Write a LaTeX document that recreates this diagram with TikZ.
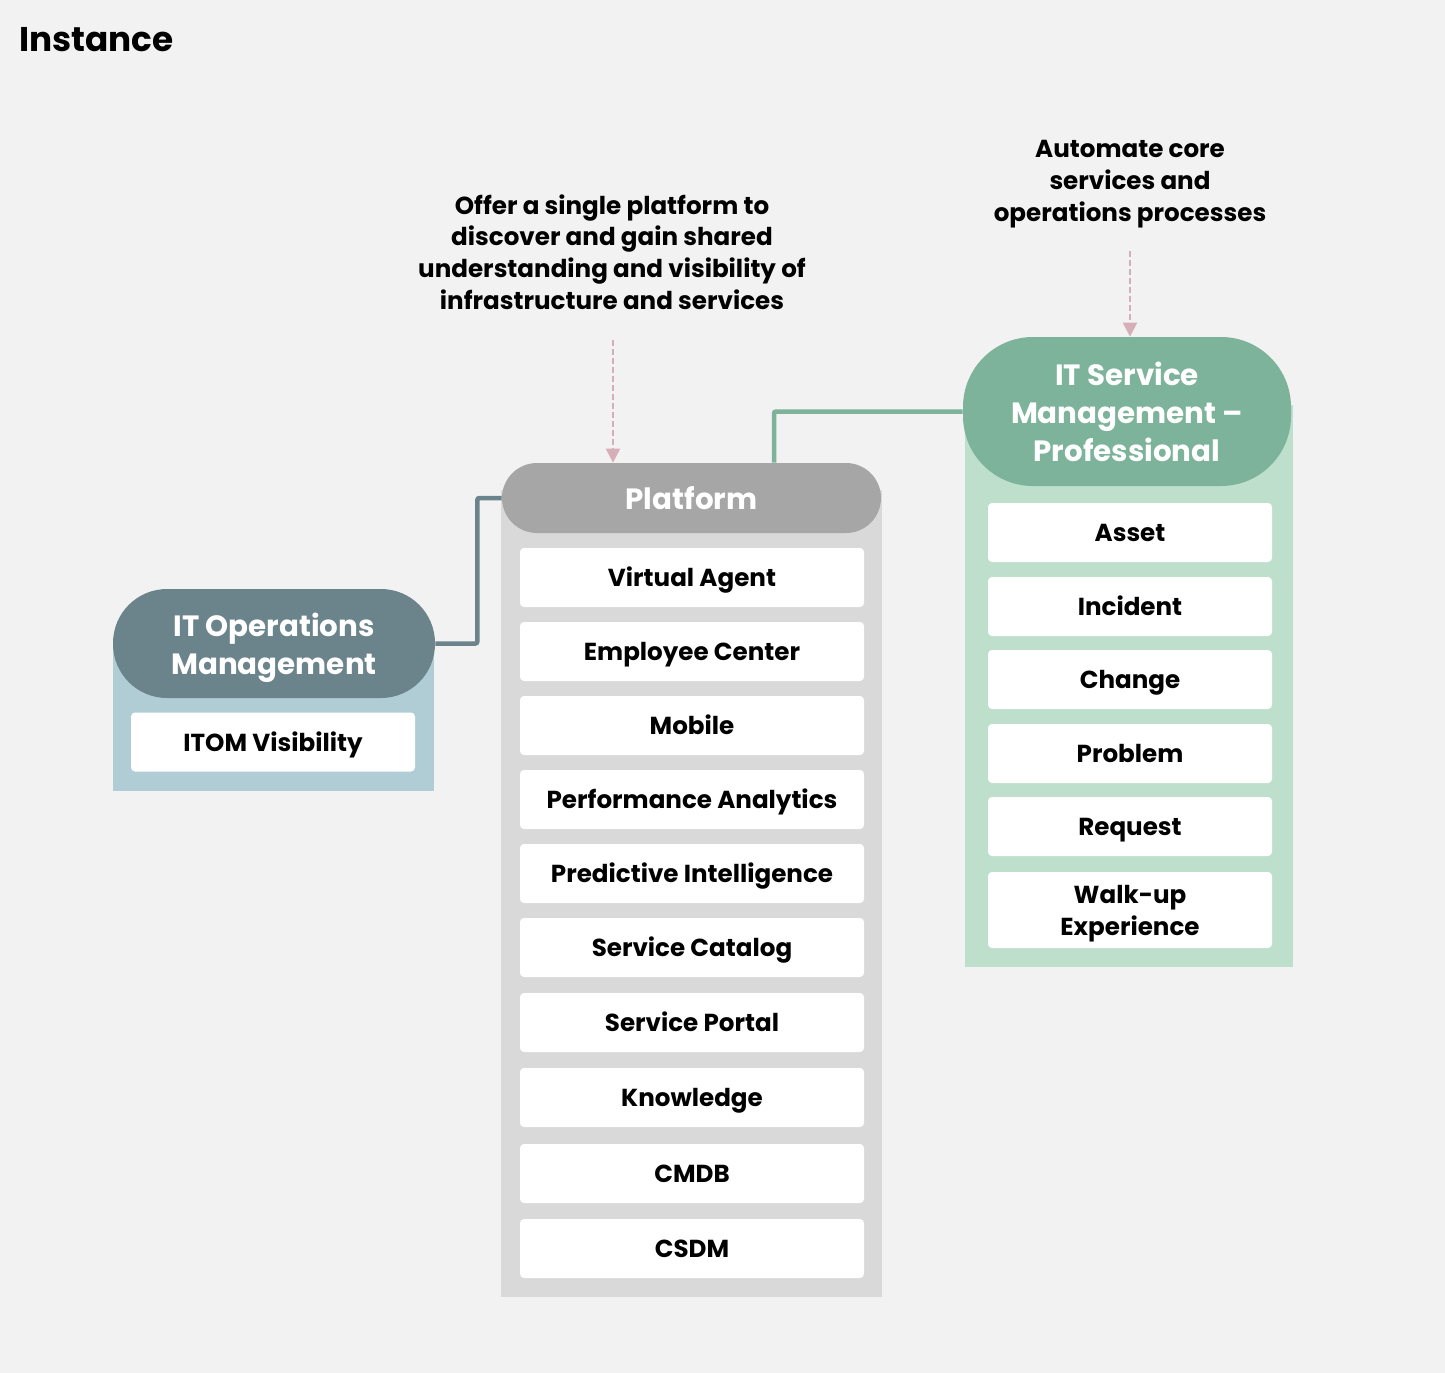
\documentclass[tikz,border=0pt]{standalone}
\usepackage{fontspec}
\setmainfont{Poppins}
\usetikzlibrary{positioning,calc,arrows.meta}

\definecolor{bggray}{HTML}{F2F2F2}
\definecolor{itomdark}{HTML}{6B848C}
\definecolor{itomlight}{HTML}{B0CDD6}
\definecolor{platdark}{HTML}{A6A6A6}
\definecolor{platlight}{HTML}{D9D9D9}
\definecolor{itsmdark}{HTML}{7DB39A}
\definecolor{itsmlight}{HTML}{BDDFCB}
\definecolor{notepink}{HTML}{D6AEB7}

\newlength\pxl
\setlength\pxl{0.02cm}

\tikzset{
  item/.style={fill=white, rounded corners=4\pxl, minimum height=59\pxl,
    inner sep=0pt, align=center, text height=10.4pt, text depth=0pt,
    font=\fontsize{14}{18.1}\selectfont\bfseries},
  pill/.style={inner sep=0pt, align=center, text=white, text depth=0pt,
    font=\fontsize{16.7}{21.5}\selectfont\bfseries},
  note/.style={align=center, inner sep=0pt, font=\fontsize{14}{18.1}\selectfont\bfseries},
  notearrow/.style={draw=notepink, line width=0.04cm, dash pattern=on 0.12cm off 0.06cm,
    -{Triangle[length=0.28cm,width=0.28cm,fill=notepink]}},
  link/.style={line width=0.09cm, rounded corners=0.04cm}
}

\begin{document}
\begin{tikzpicture}[x=0.02cm,y=-0.02cm]
  \useasboundingbox (0,0) rectangle (1445,1373);
  \fill[bggray] (0,0) rectangle (1445,1373);

  % title
  \node[anchor=west, inner sep=0pt, font=\fontsize{19.5}{24}\selectfont\bfseries] (title) at (19,40) {Instance};

  % panels
  \fill[itomlight] (113,640) rectangle (434,791);
  \fill[platlight] (501,490) rectangle (882,1297);
  \fill[itsmlight] (965,405) rectangle (1293,967);

  % headers
  \node[pill, fill=itomdark, minimum width=322\pxl, minimum height=109\pxl,
    rounded corners=54\pxl] (itom) at (274,643.5) {IT Operations\\Management};
  \node[pill, fill=platdark, minimum width=379\pxl, minimum height=70\pxl,
    rounded corners=35\pxl] (plat) at (691.5,498) {Platform};
  \node[pill, fill=itsmdark, minimum width=328\pxl, minimum height=149\pxl,
    rounded corners=70\pxl] (itsm) at (1127,411.5) {IT Service\\Management --\\Professional};

  % items
  \node[item, minimum width=284\pxl] (itomvis) at (273,742) {ITOM Visibility};
  \foreach \t/\y [count=\i] in {Virtual Agent/577.5, Employee Center/651.5, Mobile/725.5,
      Performance Analytics/799.5, Predictive Intelligence/873.5, Service Catalog/947.5,
      Service Portal/1022.5, Knowledge/1097.5, CMDB/1173.5, CSDM/1248.5}
    \node[item, minimum width=344\pxl] (plat\i) at (692,\y) {\t};
  \foreach \t/\y [count=\i] in {Asset/532.5, Incident/606.5, Change/679.5,
      Problem/753.5, Request/826.5}
    \node[item, minimum width=284\pxl] (itsm\i) at (1130,\y) {\t};
  \node[item, minimum width=284\pxl, minimum height=76\pxl, text height={}]
    (itsm6) at (1130,910) {Walk-up\\Experience};

  % links
  \draw[link, itomdark] (itom.east) -- ++(42,0) |- (plat.west);
  \draw[link, itsmdark] (itsm.west) -| ($(plat.north)+(82.5,0)$);

  % notes
  \node[note] (note1) at (612,252) {Offer a single platform to\\discover and gain shared\\understanding and visibility of\\infrastructure and services};
  \node[note] (note2) at (1130,184) {Automate core\\services and\\operations processes};
  \coordinate (note1end) at (613,340);
  \coordinate (note2end) at (1130,251);
  \draw[notearrow] (note1end) -- (note1end |- plat.north);
  \draw[notearrow] (note2end) -- (note2end |- itsm.north);
\end{tikzpicture}
\end{document}
